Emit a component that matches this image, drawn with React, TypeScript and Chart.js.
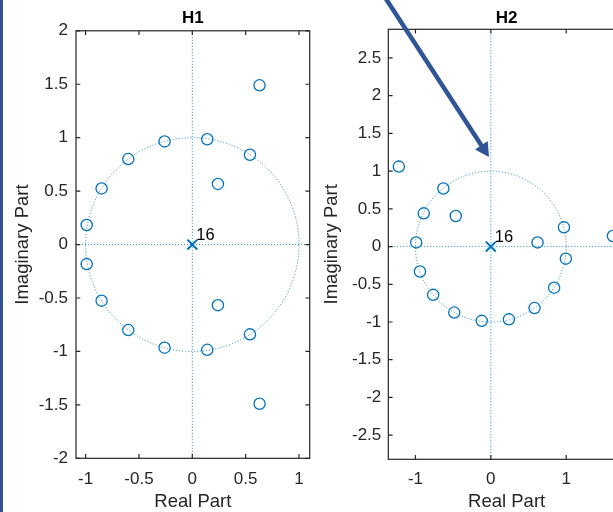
import React, { useEffect, useRef } from "react";
import { Chart, registerables } from "chart.js";
Chart.register(...registerables);

// ---- H1 data ----
const zerosRe1 = [0.63, -0.26, 0.14, -0.6, 0.54, -0.85, 0.24, -0.99, -0.99, -0.85, -0.6, -0.26, 0.14, 0.24, 0.54, 0.63];
const zerosIm1 = [1.49, 0.965, 0.985, 0.8, 0.84, 0.525, 0.567, 0.183, -0.183, -0.525, -0.8, -0.965, -0.985, -0.567, -0.84, -1.49];
const polesRe1 = [0];
const polesIm1 = [0];
const poleLabel1 = "16";
const xTicks1 = [-1, -0.5, 0, 0.5, 1];
const yTicks1 = [-2, -1.5, -1, -0.5, 0, 0.5, 1, 1.5, 2];

// ---- H2 data ----
const zerosRe2 = [-1.22, -0.63, -0.89, -0.465, -0.99, 0.62, 0.97, 1.62, 0.995, -0.94, -0.765, -0.485, -0.12, 0.24, 0.58, 0.84];
const zerosIm2 = [1.06, 0.77, 0.44, 0.405, 0.055, 0.055, 0.255, 0.14, -0.16, -0.33, -0.64, -0.875, -0.985, -0.965, -0.815, -0.545];
const polesRe2 = [0];
const polesIm2 = [0];
const poleLabel2 = "16";
const xTicks2 = [-1, 0, 1];
const yTicks2 = [-2.5, -2, -1.5, -1, -0.5, 0, 0.5, 1, 1.5, 2, 2.5];

const FONT = "'Liberation Sans', Arial, Helvetica, sans-serif";
const BLUE = "#0072BD";
const AXC = "#262626";

const zplanePlugin = {
  id: "zplane",
  beforeDatasetsDraw(chart: any) {
    const { ctx, chartArea: a, scales } = chart;
    const xs = scales.x, ys = scales.y;
    const cx = xs.getPixelForValue(0), cy = ys.getPixelForValue(0);
    const rx = xs.getPixelForValue(1) - cx;
    const ry = cy - ys.getPixelForValue(1);
    ctx.save();
    ctx.beginPath();
    ctx.rect(a.left, a.top, a.right - a.left, a.bottom - a.top);
    ctx.clip();
    ctx.strokeStyle = "rgba(0,114,189,0.85)";
    ctx.lineWidth = 1;
    ctx.setLineDash([1, 2]);
    ctx.beginPath();
    ctx.ellipse(cx, cy, rx, ry, 0, 0, Math.PI * 2);
    ctx.stroke();
    ctx.beginPath();
    ctx.moveTo(a.left, cy);
    ctx.lineTo(a.right, cy);
    ctx.moveTo(cx, a.top);
    ctx.lineTo(cx, a.bottom);
    ctx.stroke();
    ctx.restore();
  },
  afterDraw(chart: any, _args: any, opts: any) {
    const { ctx, chartArea: a, scales } = chart;
    const xs = scales.x, ys = scales.y;
    ctx.save();
    ctx.strokeStyle = AXC;
    ctx.lineWidth = 1.2;
    ctx.setLineDash([]);
    ctx.strokeRect(a.left, a.top, a.right - a.left, a.bottom - a.top);
    const tl = 4.3;
    ctx.beginPath();
    xs.ticks.forEach((t: any) => {
      const px = xs.getPixelForValue(t.value);
      ctx.moveTo(px, a.bottom);
      ctx.lineTo(px, a.bottom - tl);
      ctx.moveTo(px, a.top);
      ctx.lineTo(px, a.top + tl);
    });
    ys.ticks.forEach((t: any) => {
      const py = ys.getPixelForValue(t.value);
      ctx.moveTo(a.left, py);
      ctx.lineTo(a.left + tl, py);
      ctx.moveTo(a.right, py);
      ctx.lineTo(a.right - tl, py);
    });
    ctx.stroke();
    // title
    ctx.fillStyle = "#000";
    ctx.font = `bold 17px ${FONT}`;
    ctx.textAlign = "center";
    ctx.textBaseline = "alphabetic";
    ctx.fillText(opts.title, (a.left + a.right) / 2, 23.2);
    // pole multiplicity label
    ctx.font = `16.5px ${FONT}`;
    ctx.textAlign = "left";
    opts.poleRe.forEach((re: number, i: number) => {
      const px = xs.getPixelForValue(re);
      const py = ys.getPixelForValue(opts.poleIm[i]);
      ctx.fillText(opts.poleLabel, px + 4, py - 4.3);
    });
    ctx.restore();
  },
};

type Cfg = {
  title: string;
  zRe: number[];
  zIm: number[];
  pRe: number[];
  pIm: number[];
  pLabel: string;
  xTicks: number[];
  yTicks: number[];
  xMin: number;
  xMax: number;
  yMin: number;
  yMax: number;
  canvasW: number;
  areaLeft: number;
  areaRight: number;
  areaTop: number;
  areaBottom: number;
  yTickPad: number;
  xTickPad: number;
  yTitlePad: number;
};

function makeChart(canvas: HTMLCanvasElement, c: Cfg) {
  const zeros = c.zRe.map((x, i) => ({ x, y: c.zIm[i] }));
  const poles = c.pRe.map((x, i) => ({ x, y: c.pIm[i] }));
  return new Chart(canvas, {
    type: "scatter",
    data: {
      datasets: [
        {
          label: "zeros",
          data: zeros,
          pointStyle: "circle",
          pointRadius: 5.6,
          pointBorderWidth: 1.3,
          pointBorderColor: BLUE,
          pointBackgroundColor: "rgba(0,0,0,0)",
          showLine: false,
          clip: false as any,
        },
        {
          label: "poles",
          data: poles,
          pointStyle: "crossRot",
          pointRadius: 7,
          pointBorderWidth: 2,
          pointBorderColor: BLUE,
          pointBackgroundColor: BLUE,
          showLine: false,
          clip: false as any,
        },
      ],
    },
    options: {
      responsive: false,
      animation: false,
      devicePixelRatio: 1,
      layout: {
        padding: {
          left: 0,
          top: c.areaTop,
          right: c.canvasW - c.areaRight,
          bottom: 0,
        },
      },
      plugins: {
        legend: { display: false },
        tooltip: { enabled: false },
        zplane: { title: c.title, poleRe: c.pRe, poleIm: c.pIm, poleLabel: c.pLabel },
      } as any,
      scales: {
        x: {
          type: "linear",
          min: c.xMin,
          max: c.xMax,
          grid: { display: false, drawTicks: false },
          border: { display: false },
          afterBuildTicks: (s: any) => {
            s.ticks = c.xTicks.map((v) => ({ value: v }));
          },
          afterFit: (s: any) => {
            s.height = 512 - c.areaBottom;
          },
          ticks: {
            padding: c.xTickPad,
            color: AXC,
            font: { family: FONT, size: 17, lineHeight: 1.2 },
            callback: (v: any) => String(v),
            maxRotation: 0,
            autoSkip: false,
          },
          title: {
            display: true,
            text: "Real Part",
            color: AXC,
            font: { family: FONT, size: 18.5, lineHeight: 1 },
            padding: { top: 0, bottom: 0.8 },
          },
        },
        y: {
          type: "linear",
          min: c.yMin,
          max: c.yMax,
          grid: { display: false, drawTicks: false },
          border: { display: false },
          afterBuildTicks: (s: any) => {
            s.ticks = c.yTicks.map((v) => ({ value: v }));
          },
          afterFit: (s: any) => {
            s.width = c.areaLeft;
          },
          ticks: {
            padding: c.yTickPad,
            color: AXC,
            font: { family: FONT, size: 17, lineHeight: 1.2 },
            callback: (v: any) => String(v),
            autoSkip: false,
          },
          title: {
            display: true,
            text: "Imaginary Part",
            color: AXC,
            font: { family: FONT, size: 18.5, lineHeight: 1 },
            padding: { top: c.yTitlePad, bottom: 0 },
          },
        },
      },
    } as any,
    plugins: [zplanePlugin as any],
  });
}

const C2_LEFT = 315;

export default function App() {
  const c1 = useRef<HTMLCanvasElement>(null);
  const c2 = useRef<HTMLCanvasElement>(null);
  const ov = useRef<HTMLCanvasElement>(null);

  useEffect(() => {
    const ch1 = makeChart(c1.current!, {
      title: "H1",
      zRe: zerosRe1,
      zIm: zerosIm1,
      pRe: polesRe1,
      pIm: polesIm1,
      pLabel: poleLabel1,
      xTicks: xTicks1,
      yTicks: yTicks1,
      xMin: -1.09,
      xMax: 1.1,
      yMin: -2,
      yMax: 2,
      canvasW: 330,
      areaLeft: 76,
      areaRight: 309.7,
      areaTop: 30.8,
      areaBottom: 458.3,
      yTickPad: 8,
      xTickPad: 10.5,
      yTitlePad: 14,
    });
    const ch2 = makeChart(c2.current!, {
      title: "H2",
      zRe: zerosRe2,
      zIm: zerosIm2,
      pRe: polesRe2,
      pIm: polesIm2,
      pLabel: poleLabel2,
      xTicks: xTicks2,
      yTicks: yTicks2,
      xMin: -1.36,
      xMax: 1.78,
      yMin: -2.82,
      yMax: 2.88,
      canvasW: 340,
      areaLeft: 388.3 - C2_LEFT,
      areaRight: 625 - C2_LEFT,
      areaTop: 29.3,
      areaBottom: 459.3,
      yTickPad: 7,
      xTickPad: 9.7,
      yTitlePad: 7.7,
    });

    // annotation arrow overlay
    const ctx = ov.current!.getContext("2d")!;
    ctx.clearRect(0, 0, 613, 512);
    const tip = { x: 489, y: 157 };
    const dx = 102.3, dy = 157;
    const L = Math.hypot(dx, dy);
    const ux = dx / L, uy = dy / L;
    const headLen = 14, headHalf = 7.6;
    const bx = tip.x - ux * headLen, by = tip.y - uy * headLen;
    ctx.strokeStyle = "#2F5597";
    ctx.fillStyle = "#2F5597";
    ctx.lineWidth = 4.5;
    ctx.beginPath();
    ctx.moveTo(tip.x - ux * 210, tip.y - uy * 210);
    ctx.lineTo(bx + ux * 2, by + uy * 2);
    ctx.stroke();
    ctx.beginPath();
    ctx.moveTo(tip.x, tip.y);
    ctx.lineTo(bx - uy * headHalf, by + ux * headHalf);
    ctx.lineTo(bx + uy * headHalf, by - ux * headHalf);
    ctx.closePath();
    ctx.fill();

    return () => {
      ch1.destroy();
      ch2.destroy();
    };
  }, []);

  return (
    <div
      style={{
        position: "absolute",
        left: 0,
        top: 0,
        width: 613,
        height: 512,
        overflow: "hidden",
        background: "#fff",
      }}
    >
      <canvas ref={c1} width={330} height={512} style={{ position: "absolute", left: 0, top: 0, width: 330, height: 512 }} />
      <canvas
        ref={c2}
        width={340}
        height={512}
        style={{ position: "absolute", left: C2_LEFT, top: 0, width: 340, height: 512 }}
      />
      <canvas
        ref={ov}
        width={613}
        height={512}
        style={{ position: "absolute", left: 0, top: 0, width: 613, height: 512, pointerEvents: "none" }}
      />
      <div style={{ position: "absolute", left: 0, top: 0, width: 3, height: 512, background: "#2F5597" }} />
    </div>
  );
}
